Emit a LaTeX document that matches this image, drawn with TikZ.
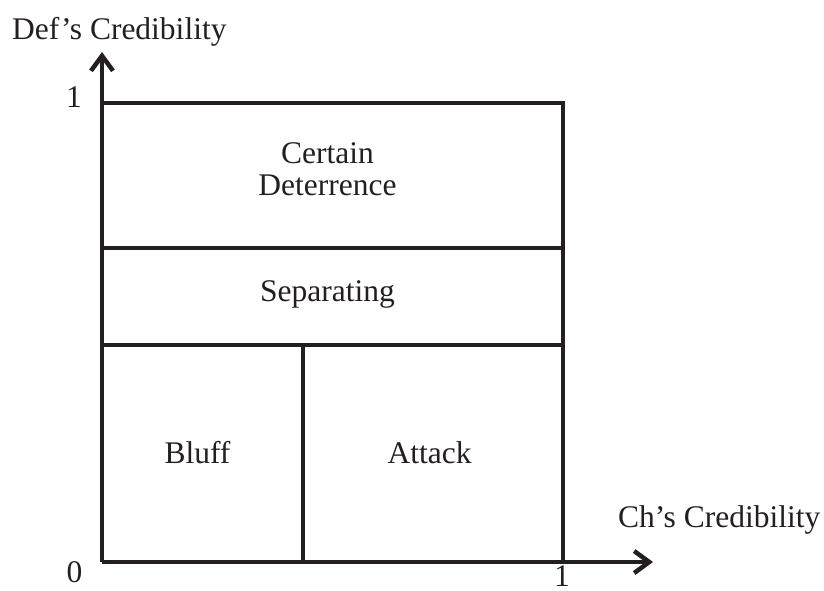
\documentclass[tikz,border=0pt]{standalone}
\usepackage{fontspec}
\setmainfont{Liberation Serif}
\usetikzlibrary{arrows.meta}
\definecolor{ink}{HTML}{231F20}
\begin{document}
\begin{tikzpicture}[x=1pt,y=-1pt,
  ln/.style={draw=ink,line width=4.5pt},
  axisln/.style={ln,-{Straight Barb[length=15pt,width=22pt,line width=4.5pt]}},
  lbl/.style={inner sep=0pt,anchor=base,text=ink,font=\fontsize{31.5}{38}\selectfont}]
\useasboundingbox (0,0) rectangle (824,590);
% key points
\coordinate (O) at (102,562);
\coordinate (Ytip) at (102,52);
\coordinate (Xtip) at (653,562);
\coordinate (TL) at (102,103);
\coordinate (TR) at (563,103);
\coordinate (BR) at (563,562);
\coordinate (L1) at (102,248);
\coordinate (R1) at (563,248);
\coordinate (L2) at (102,345);
\coordinate (R2) at (563,345);
\coordinate (M2) at (303,345);
\coordinate (MB) at (303,562);
% box
\draw[ln,line join=miter] (TL) -- (TR) -- (BR);
\draw[ln] (L1) -- (R1);
\draw[ln] (L2) -- (R2);
\draw[ln] (M2) -- (MB);
% axes
\draw[axisln] (O) -- (Ytip);
\draw[axisln] (O) -- (Xtip);
% labels
\node[lbl,anchor=base west] (ylab) at (12,39) {Def’s Credibility};
\node[lbl,anchor=base west] (xlab) at (618,527) {Ch’s Credibility};
\node[lbl] (one-y) at (74,107) {1};
\node[lbl] (zero) at (74.5,582) {0};
\node[lbl] (one-x) at (562,586) {1};
\node[lbl] (cert) at (327.5,163) {Certain};
\node[lbl] (deter) at (327.5,195) {Deterrence};
\node[lbl] (sep) at (327.5,301) {Separating};
\node[lbl] (bluff) at (197.5,463) {Bluff};
\node[lbl] (attack) at (429.5,463) {Attack};
\end{tikzpicture}
\end{document}
